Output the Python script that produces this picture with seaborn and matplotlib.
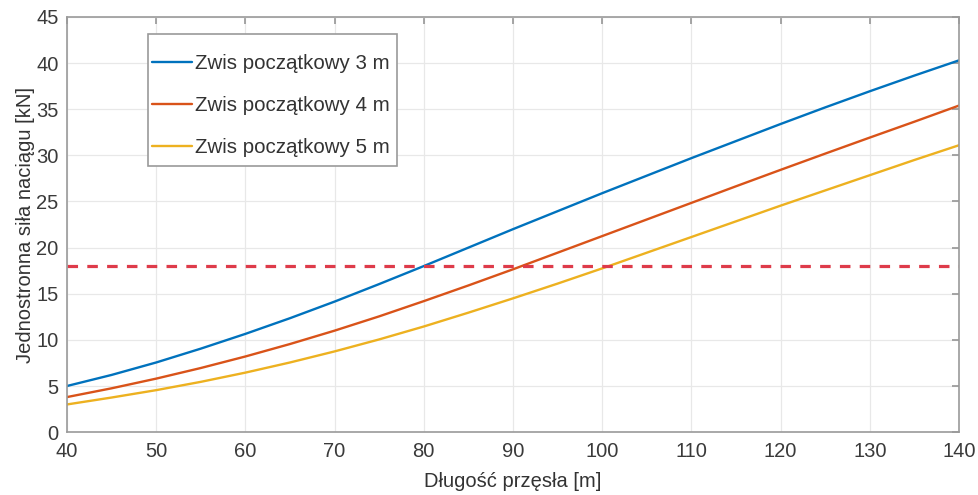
import matplotlib
matplotlib.use("Agg")
import matplotlib.pyplot as plt
from matplotlib.patches import Rectangle
import seaborn as sns
import pandas as pd

span = [40, 45, 50, 55, 60, 65, 70, 75, 80, 85, 90, 95, 100, 105, 110, 115, 120, 125, 130, 135, 140]
sag3 = [5.0, 6.2, 7.55, 9.05, 10.65, 12.35, 14.15, 16.05, 18.0, 20.0, 22.0, 23.95, 25.9, 27.8, 29.7, 31.55, 33.4, 35.2, 36.95, 38.65, 40.3]
sag4 = [3.8, 4.75, 5.8, 6.95, 8.2, 9.55, 11.0, 12.55, 14.2, 15.9, 17.65, 19.45, 21.25, 23.05, 24.85, 26.65, 28.43, 30.19, 31.93, 33.65, 35.4]
sag5 = [3.0, 3.75, 4.55, 5.45, 6.45, 7.55, 8.75, 10.05, 11.45, 12.95, 14.5, 16.1, 17.75, 19.45, 21.15, 22.85, 24.55, 26.2, 27.85, 29.5, 31.1]
labels = ["Zwis początkowy 3 m", "Zwis początkowy 4 m", "Zwis początkowy 5 m"]
limit = 18
xticks = list(range(40, 141, 10))
yticks = list(range(0, 46, 5))

sns.set_theme(style="whitegrid")
plt.rcParams['font.family'] = ['Liberation Sans', 'DejaVu Sans']

df = pd.concat([
    pd.DataFrame({"x": span, "y": vals, "series": lab})
    for vals, lab in zip([sag3, sag4, sag5], labels)
])

fig = plt.figure(figsize=(9.79, 4.95), dpi=100)
ax = fig.add_axes([0.0684, 0.127, 0.9112, 0.8387])

colors = ["#0072BD", "#D95319", "#EDB120"]
sns.lineplot(data=df, x="x", y="y", hue="series", palette=colors, ax=ax, linewidth=1.7)
ax.axhline(limit, color="#DE3B4A", linestyle=(0, (3.3, 2.9)), linewidth=2.3)

ax.set_xlim(40, 140)
ax.set_ylim(0, 45)
ax.set_xticks(xticks)
ax.set_yticks(yticks)
ax.set_xlabel("Długość przęsła [m]", fontsize=14.5, color="#333333", labelpad=8)
ax.set_ylabel("Jednostronna siła naciągu [kN]", fontsize=14.5, color="#333333", labelpad=1)
ax.tick_params(axis="both", labelsize=14.5, colors="#999999", direction="in", length=5,
               top=True, right=True, labelcolor="#3a3a3a")
ax.tick_params(axis="x", pad=7)
ax.tick_params(axis="y", pad=6)
ax.grid(True, color="#E8E8E8", linewidth=0.9)
for s in ax.spines.values():
    s.set_color("#9a9a9a")
    s.set_linewidth(1.2)

# legend box (MATLAB-like framing)
ax.add_patch(Rectangle((0.0908, 0.641), 0.2792, 0.318, transform=ax.transAxes,
                       facecolor="white", edgecolor="#9a9a9a", linewidth=1.2, zorder=4))
leg = ax.legend(loc="upper left", bbox_to_anchor=(0.0950, 0.911), fontsize=14.8, frameon=False,
                handlelength=1.95, handletextpad=0.15, labelspacing=1.12, borderpad=0,
                borderaxespad=0)
leg.set_zorder(5)
for t in leg.get_texts():
    t.set_color("#333333")

fig.savefig("out.png", dpi=100)
